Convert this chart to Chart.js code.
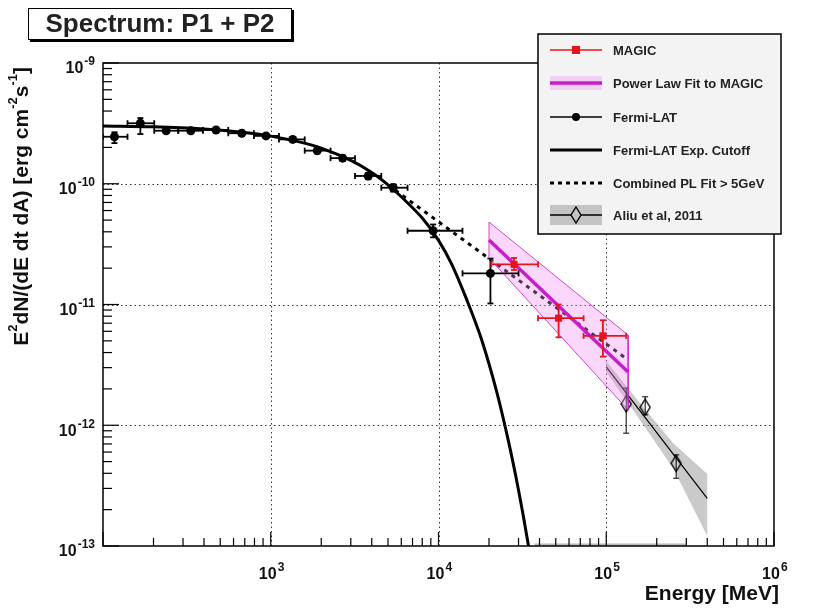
<!DOCTYPE html>
<html>
<head>
<meta charset="utf-8">
<title>Spectrum: P1 + P2</title>
<script src="https://cdn.jsdelivr.net/npm/chart.js@4.4.0/dist/chart.umd.min.js"></script>
<style>
  html, body { margin: 0; padding: 0; background: #fff; }
  canvas { display: block; }
</style>
</head>
<body>
<canvas id="spectrum" width="836" height="608"></canvas>
<script>
// Fermi-LAT points (MeV, erg cm^-2 s^-1) with bin edges and flux errors
const fermiE   = [117, 167, 238, 334, 472, 672, 937, 1352, 1893, 2683, 3813, 5370, 9290, 20400];
const fermiF   = [2.45e-10, 3.17e-10, 2.75e-10, 2.75e-10, 2.79e-10, 2.62e-10, 2.49e-10, 2.33e-10, 1.88e-10, 1.63e-10, 1.16e-10, 9.27e-11, 4.08e-11, 1.81e-11];
const fermiElo = [100, 140, 202, 281, 394, 558, 794, 1120, 1594, 2272, 3179, 4559, 6538, 13900];
const fermiEhi = [140, 202, 281, 394, 558, 794, 1120, 1594, 2272, 3179, 4559, 6538, 13900, 30000];
const fermiFlo = [2.17e-10, 2.58e-10, 2.64e-10, 2.64e-10, 2.68e-10, 2.52e-10, 2.39e-10, 2.22e-10, 1.78e-10, 1.54e-10, 1.09e-10, 8.6e-11, 3.6e-11, 1.02e-11];
const fermiFhi = [2.67e-10, 3.5e-10, 2.86e-10, 2.86e-10, 2.9e-10, 2.72e-10, 2.59e-10, 2.44e-10, 1.98e-10, 1.72e-10, 1.23e-10, 9.9e-11, 4.6e-11, 2.4e-11];

// Fermi-LAT exponential cutoff curve
const cutE = [100, 200, 400, 700, 1000, 1500, 2000, 3000, 4000, 5000, 6000, 8000, 10000, 12000, 15000, 18000, 22000, 26000, 30000, 34000, 38000];
const cutF = [3.01e-10, 2.96e-10, 2.84e-10, 2.66e-10, 2.48e-10, 2.21e-10, 1.97e-10, 1.56e-10, 1.24e-10, 9.8e-11, 7.8e-11, 5.2e-11, 3.4e-11, 2.15e-11, 1.03e-11, 5.2e-12, 2.0e-12, 7.6e-13, 2.9e-13, 1.1e-13, 4.0e-14];

// MAGIC points
const magicE   = [28200, 52000, 95500];
const magicF   = [2.15e-11, 7.7e-12, 5.5e-12];
const magicElo = [20650, 39200, 73300];
const magicEhi = [39200, 73300, 131500];
const magicFlo = [1.93e-11, 5.35e-12, 3.7e-12];
const magicFhi = [2.43e-11, 1.0e-11, 7.4e-12];

// power law fit to MAGIC and its error band
const magicFitE  = [20000, 135000];
const magicFitF  = [3.42e-11, 2.76e-12];
const magicBandHi = [4.82e-11, 5.58e-12];
const magicBandLo = [2.43e-11, 1.34e-12];

// combined power law above 5 GeV
const combE = [5000, 130000];
const combF = [9.77e-11, 3.61e-12];

// Aliu et al. 2011 points, fit line and band
const aliuE   = [131500, 170600, 261000];
const aliuF   = [1.50e-12, 1.41e-12, 4.84e-13];
const aliuFlo = [8.6e-13, 1.22e-12, 3.64e-13];
const aliuFhi = [2.03e-12, 1.72e-12, 5.68e-13];
const aliuFitE = [100000, 400000];
const aliuFitF = [3.05e-12, 2.48e-13];
const aliuBandE  = [100000, 150000, 250000, 400000];
const aliuBandHi = [3.40e-12, 1.68e-12, 7.13e-13, 3.94e-13];
const aliuBandLo = [2.76e-12, 1.24e-12, 4.43e-13, 1.21e-13];

// grey strip lying on the lower axis
const floorE = [37400, 300000];
const floorF = [1e-13, 1e-13];

// axis decorations
const xTickExp = [3, 4, 5, 6];
const yTickExp = [-9, -10, -11, -12, -13];
const xGrid = [1e3, 1e4, 1e5];
const yGrid = [1e-10, 1e-11, 1e-12];
const legendLabels = ['MAGIC', 'Power Law Fit to MAGIC', 'Fermi-LAT', 'Fermi-LAT Exp. Cutoff', 'Combined PL Fit > 5GeV', 'Aliu et al, 2011'];

const FONT = '"Liberation Sans", Arial, Helvetica, sans-serif';
const MAGIC_RED = '#e8141c';
const MAGENTA = '#c81ec8';
const PINK = 'rgba(245, 140, 245, 0.35)';
const GREY = 'rgba(150, 150, 150, 0.5)';

const pts = (xs, ys) => xs.map((v, i) => ({ x: v, y: ys[i] }));
const polygon = (xs, hi, lo) => {
  const p = pts(xs, hi).concat(pts(xs, lo).reverse());
  p.push(p[0]);
  return p;
};

// open diamond marker, a bit taller than wide
function diamondMarker() {
  const c = document.createElement('canvas');
  c.width = 12; c.height = 18;
  const g = c.getContext('2d');
  g.strokeStyle = '#000';
  g.lineWidth = 1.4;
  g.beginPath();
  g.moveTo(6, 1); g.lineTo(11, 9); g.lineTo(6, 17); g.lineTo(1, 9);
  g.closePath();
  g.stroke();
  return c;
}
const diamond = diamondMarker();

function seg(ctx, x1, y1, x2, y2) {
  ctx.beginPath(); ctx.moveTo(x1, y1); ctx.lineTo(x2, y2); ctx.stroke();
}

// "10" with a raised exponent
function drawPow(ctx, exp, x, y, align) {
  ctx.font = 'bold 16px ' + FONT;
  const w10 = ctx.measureText('10').width;
  ctx.font = 'bold 12px ' + FONT;
  const we = ctx.measureText(exp).width;
  let x0 = align === 'right' ? x - w10 - we - 1 : x - w10 / 2;
  ctx.textAlign = 'left';
  ctx.textBaseline = 'middle';
  ctx.font = 'bold 16px ' + FONT;
  ctx.fillText('10', x0, y);
  ctx.font = 'bold 12px ' + FONT;
  ctx.fillText(exp, x0 + w10 + 1, y - 7);
}

// text pieces with superscripts, drawn left to right
function drawRich(ctx, parts, x, y, size) {
  ctx.textAlign = 'left';
  ctx.textBaseline = 'middle';
  let cx = x;
  parts.forEach(([t, sup]) => {
    ctx.font = 'bold ' + (sup ? Math.round(size * 0.62) : size) + 'px ' + FONT;
    ctx.fillText(t, cx, sup ? y - size * 0.4 : y);
    cx += ctx.measureText(t).width;
  });
}
function richWidth(ctx, parts, size) {
  let w = 0;
  parts.forEach(([t, sup]) => {
    ctx.font = 'bold ' + (sup ? Math.round(size * 0.62) : size) + 'px ' + FONT;
    w += ctx.measureText(t).width;
  });
  return w;
}

const rootStyle = {
  id: 'rootStyle',
  beforeDatasetsDraw(chart) {
    const { ctx, chartArea: a, scales: { x, y } } = chart;
    ctx.save();
    ctx.strokeStyle = '#333';
    ctx.lineWidth = 1;
    ctx.setLineDash([1.5, 3]);
    xGrid.forEach(v => {
      const px = Math.round(x.getPixelForValue(v)) + 0.5;
      seg(ctx, px, a.top, px, a.bottom);
    });
    yGrid.forEach(v => {
      const py = Math.round(y.getPixelForValue(v)) + 0.5;
      seg(ctx, a.left, py, a.right, py);
    });
    ctx.restore();
  },
  beforeDatasetDraw(chart, args) {
    const ds = chart.data.datasets[args.index];
    const e = ds.errors;
    if (!e) return;
    const { ctx, chartArea: a, scales: { x, y } } = chart;
    ctx.save();
    ctx.beginPath();
    ctx.rect(a.left, a.top, a.right - a.left, a.bottom - a.top);
    ctx.clip();
    ctx.strokeStyle = e.color;
    ctx.lineWidth = e.width;
    const cap = 3;
    e.x.forEach((v, i) => {
      const px = x.getPixelForValue(v);
      const py = y.getPixelForValue(e.y[i]);
      if (e.xlo) {
        const l = x.getPixelForValue(e.xlo[i]);
        const r = x.getPixelForValue(e.xhi[i]);
        seg(ctx, l, py, r, py);
        seg(ctx, l, py - cap, l, py + cap);
        seg(ctx, r, py - cap, r, py + cap);
      }
      const t = y.getPixelForValue(e.yhi[i]);
      const b = y.getPixelForValue(e.ylo[i]);
      seg(ctx, px, t, px, b);
      seg(ctx, px - cap, t, px + cap, t);
      seg(ctx, px - cap, b, px + cap, b);
    });
    ctx.restore();
  },
  afterDraw(chart) {
    const { ctx, chartArea: a, scales: { x, y } } = chart;
    ctx.save();
    ctx.setLineDash([]);

    // frame
    ctx.strokeStyle = '#000';
    ctx.lineWidth = 1.5;
    ctx.strokeRect(a.left, a.top, a.right - a.left, a.bottom - a.top);

    // ticks on the bottom and left axes
    ctx.lineWidth = 1.2;
    for (let d = 2; d <= 6; d++) {
      for (let k = 1; k <= 9; k++) {
        const v = k * Math.pow(10, d);
        if (v < 100 || v > 1e6) continue;
        const px = x.getPixelForValue(v);
        seg(ctx, px, a.bottom, px, a.bottom - (k === 1 ? 14 : 8));
      }
    }
    for (let d = -13; d <= -9; d++) {
      for (let k = 1; k <= 9; k++) {
        const v = k * Math.pow(10, d);
        if (v > 1.0001e-9) continue;
        const py = y.getPixelForValue(v);
        seg(ctx, a.left, py, a.left + (k === 1 ? 16 : 9), py);
      }
    }

    // tick labels
    ctx.fillStyle = '#111';
    xTickExp.forEach(n => {
      drawPow(ctx, String(n), x.getPixelForValue(Math.pow(10, n)) - 3, 575, 'center');
    });
    yTickExp.forEach(n => {
      drawPow(ctx, String(n), 95, y.getPixelForValue(Math.pow(10, n)) + 6, 'right');
    });

    // axis titles
    ctx.font = 'bold 21px ' + FONT;
    ctx.textAlign = 'right';
    ctx.textBaseline = 'middle';
    ctx.fillText('Energy [MeV]', 779, 594);

    const yTitle = [['E', false], ['2', true], ['dN/(dE dt dA) [erg cm', false], ['-2', true], ['s', false], ['-1', true], [']', false]];
    ctx.save();
    ctx.translate(22, a.top + 4);
    ctx.rotate(-Math.PI / 2);
    const tw = richWidth(ctx, yTitle, 21);
    drawRich(ctx, yTitle, -tw, 0, 21);
    ctx.restore();

    // title box
    ctx.fillStyle = '#000';
    ctx.fillRect(30, 10, 264, 32);
    ctx.fillStyle = '#fff';
    ctx.fillRect(28, 8, 264, 32);
    ctx.strokeStyle = '#000';
    ctx.lineWidth = 1;
    ctx.strokeRect(28.5, 8.5, 263, 31);
    ctx.fillStyle = '#222';
    ctx.font = 'bold 26px ' + FONT;
    ctx.textAlign = 'center';
    ctx.textBaseline = 'middle';
    ctx.fillText('Spectrum: P1 + P2', 160, 25);

    // legend
    const L = { x: 538, y: 34, w: 243, h: 200 };
    ctx.fillStyle = '#f3f3f3';
    ctx.fillRect(L.x, L.y, L.w, L.h);
    ctx.strokeStyle = '#000';
    ctx.lineWidth = 1.5;
    ctx.strokeRect(L.x, L.y, L.w, L.h);
    const rows = [50, 83, 117, 150, 183, 215];
    const x1 = 550, x2 = 602, xm = 576;
    // MAGIC
    ctx.strokeStyle = MAGIC_RED; ctx.lineWidth = 1.5;
    seg(ctx, x1, rows[0], x2, rows[0]);
    ctx.fillStyle = MAGIC_RED;
    ctx.fillRect(xm - 4, rows[0] - 4, 8, 8);
    // power law fit
    ctx.fillStyle = PINK;
    ctx.fillRect(x1, rows[1] - 7, x2 - x1, 14);
    ctx.strokeStyle = MAGENTA; ctx.lineWidth = 3.5;
    seg(ctx, x1, rows[1], x2, rows[1]);
    // Fermi-LAT
    ctx.strokeStyle = '#000'; ctx.lineWidth = 1.5;
    seg(ctx, x1, rows[2], x2, rows[2]);
    ctx.fillStyle = '#000';
    ctx.beginPath(); ctx.arc(xm, rows[2], 4, 0, Math.PI * 2); ctx.fill();
    // exp cutoff
    ctx.lineWidth = 3;
    seg(ctx, x1, rows[3], x2, rows[3]);
    // combined fit
    ctx.setLineDash([4, 4]);
    seg(ctx, x1, rows[4], x2, rows[4]);
    ctx.setLineDash([]);
    // Aliu et al
    ctx.fillStyle = GREY;
    ctx.fillRect(x1, rows[5] - 10, x2 - x1, 20);
    ctx.lineWidth = 1.5;
    seg(ctx, x1, rows[5], xm - 5, rows[5]);
    seg(ctx, xm + 5, rows[5], x2, rows[5]);
    ctx.drawImage(diamond, xm - 6, rows[5] - 9);

    ctx.fillStyle = '#222';
    ctx.font = 'bold 13px ' + FONT;
    ctx.textAlign = 'left';
    ctx.textBaseline = 'middle';
    legendLabels.forEach((t, i) => ctx.fillText(t, 613, rows[i] + 1));

    ctx.restore();
  }
};

const line = (data, color, width, extra) => Object.assign({
  data, showLine: true, borderColor: color, borderWidth: width,
  pointRadius: 0, fill: false, tension: 0
}, extra || {});

new Chart(document.getElementById('spectrum'), {
  type: 'scatter',
  data: {
    datasets: [
      {
        label: 'MAGIC', data: pts(magicE, magicF), pointStyle: 'rect', pointRadius: 5,
        backgroundColor: MAGIC_RED, borderColor: MAGIC_RED, borderWidth: 0,
        errors: { x: magicE, y: magicF, xlo: magicElo, xhi: magicEhi, ylo: magicFlo, yhi: magicFhi, color: MAGIC_RED, width: 1.8 }
      },
      {
        label: 'Fermi-LAT', data: pts(fermiE, fermiF), pointStyle: 'circle', pointRadius: 4.5,
        backgroundColor: '#000', borderColor: '#000', borderWidth: 0,
        errors: { x: fermiE, y: fermiF, xlo: fermiElo, xhi: fermiEhi, ylo: fermiFlo, yhi: fermiFhi, color: '#000', width: 1.8 }
      },
      line(pts(magicFitE, magicFitF), MAGENTA, 3.5),
      line(polygon(magicFitE, magicBandHi, magicBandLo), 'rgba(200, 30, 200, 0.8)', 1, { fill: 'shape', backgroundColor: PINK }),
      line(pts(combE, combF), '#000', 3, { borderDash: [4, 5] }),
      line(pts(cutE, cutF), '#000', 3, { tension: 0.35 }),
      {
        label: 'Aliu et al, 2011', data: pts(aliuE, aliuF), pointStyle: diamond,
        errors: { x: aliuE, y: aliuF, ylo: aliuFlo, yhi: aliuFhi, color: '#000', width: 1 }
      },
      line(pts(aliuFitE, aliuFitF), '#000', 1.2),
      line(polygon(aliuBandE, aliuBandHi, aliuBandLo), 'rgba(0,0,0,0)', 0, { fill: 'shape', backgroundColor: GREY }),
      line(pts(floorE, floorF), 'rgba(140, 140, 140, 0.6)', 5)
    ]
  },
  options: {
    responsive: false,
    animation: false,
    events: [],
    layout: { padding: { left: 103, right: 62, top: 63, bottom: 62 } },
    scales: {
      x: { type: 'logarithmic', min: 100, max: 1e6, display: false },
      y: { type: 'logarithmic', min: 1e-13, max: 1e-9, display: false }
    },
    plugins: { legend: { display: false }, tooltip: { enabled: false } }
  },
  plugins: [rootStyle]
});
</script>
</body>
</html>
